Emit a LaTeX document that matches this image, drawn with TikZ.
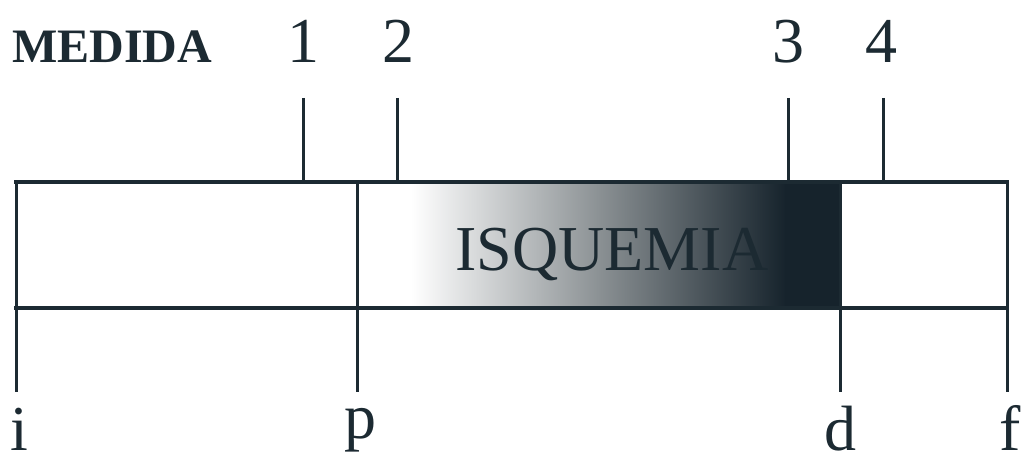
\documentclass[tikz,border=0pt]{standalone}
\usepackage{fontspec}
\setmainfont{Liberation Serif}
\definecolor{ink}{HTML}{1C2A32}
\definecolor{midg}{HTML}{8A9093}
\definecolor{darkg}{HTML}{16232C}
\begin{document}
\begin{tikzpicture}[x=1pt,y=-1pt,
  barline/.style={draw=ink,line width=4pt},
  vline/.style={draw=ink,line width=3pt},
  big/.style={inner sep=0pt,text=ink,font=\fontsize{64}{70}\selectfont},
  lbl/.style={inner sep=0pt,text=ink,font=\bfseries\fontsize{48}{54}\selectfont}]
\useasboundingbox (0,0) rectangle (1030,457);
% gradient
\fill[white] (357,182) rectangle (412,308);
\shade[left color=white,right color=midg] (411,182) rectangle (601,308);
\shade[left color=midg,right color=darkg] (600,182) rectangle (786,308);
\fill[darkg] (785,182) rectangle (840,308);
% key coordinates
\coordinate (iT) at (16,182);
\coordinate (iB) at (16,392);
\coordinate (pT) at (357,182);
\coordinate (pB) at (357,392);
\coordinate (dT) at (840,182);
\coordinate (dB) at (840,392);
\coordinate (fT) at (1007,182);
\coordinate (fB) at (1007,392);
\coordinate (t1a) at (303,98); \coordinate (t1b) at (303,182);
\coordinate (t2a) at (397,98); \coordinate (t2b) at (397,182);
\coordinate (t3a) at (788,98); \coordinate (t3b) at (788,182);
\coordinate (t4a) at (883,98); \coordinate (t4b) at (883,182);
% bar
\draw[barline] (14,182) -- (1009,182);
\draw[barline] (14,308) -- (1009,308);
\draw[vline] (iT) -- (iB);
\draw[vline] (pT) -- (pB);
\draw[vline] (dT) -- (dB);
\draw[vline] (fT) -- (fB);
% ticks
\draw[vline] (t1a) -- (t1b);
\draw[vline] (t2a) -- (t2b);
\draw[vline] (t3a) -- (t3b);
\draw[vline] (t4a) -- (t4b);
% labels
\node[lbl,anchor=base west] (med) at (12,63) {MEDIDA};
\node[big,anchor=base] (n1) at (303,63) {1};
\node[big,anchor=base] (n2) at (398,63) {2};
\node[big,anchor=base] (n3) at (788,63) {3};
\node[big,anchor=base] (n4) at (881,63) {4};
\node[big,anchor=base] (isq) at (612,270) {ISQUEMIA};
\node[big,anchor=base] (li) at (19,450) {i};
\node[big,anchor=base] (lp) at (360,438) {p};
\node[big,anchor=base] (ld) at (840,450) {d};
\node[big,anchor=base] (lf) at (1010,450) {f};
\end{tikzpicture}
\end{document}
